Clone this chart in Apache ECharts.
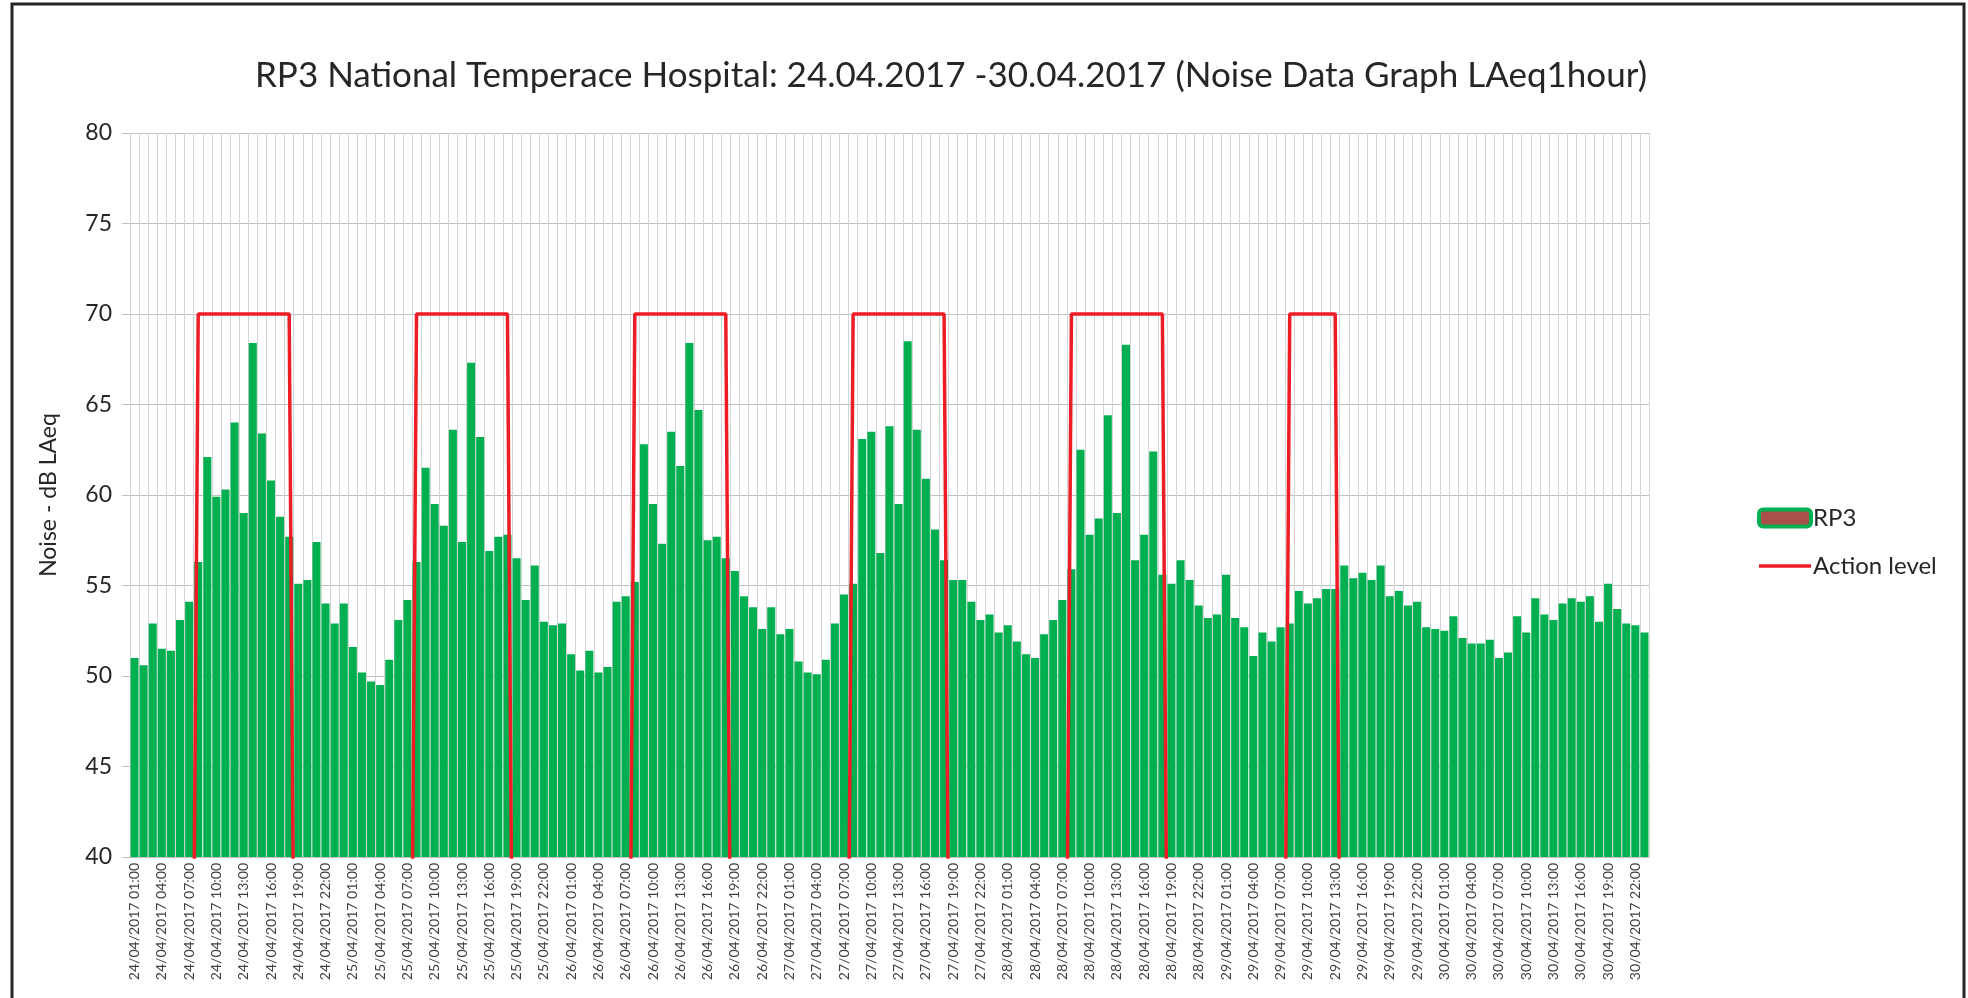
<!DOCTYPE html>
<html>
<head>
<meta charset="utf-8">
<title>RP3 Noise Data</title>
<script src="https://cdn.jsdelivr.net/npm/echarts@6/dist/echarts.min.js"></script>
<style>
html,body{margin:0;padding:0;background:#fff;}
#chart{width:1968px;height:998px;}
</style>
</head>
<body>
<div id="chart"></div>
<script>
// dates shown on the x axis, hourly from 24/04 01:00 to 30/04 23:00
var days = ['24/04/2017','25/04/2017','26/04/2017','27/04/2017','28/04/2017','29/04/2017','30/04/2017'];
var firstHour = 1;

// LAeq1hour values per day (24/04 starts at 01:00)
var rp3_24 = [51.0,50.6,52.9,51.5,51.4,53.1,54.1,56.3,62.1,59.9,60.3,64.0,59.0,68.4,63.4,60.8,58.8,57.7,55.1,55.3,57.4,54.0,52.9];
var rp3_25 = [54.0,51.6,50.2,49.7,49.5,50.9,53.1,54.2,56.3,61.5,59.5,58.3,63.6,57.4,67.3,63.2,56.9,57.7,57.8,56.5,54.2,56.1,53.0,52.8];
var rp3_26 = [52.9,51.2,50.3,51.4,50.2,50.5,54.1,54.4,55.2,62.8,59.5,57.3,63.5,61.6,68.4,64.7,57.5,57.7,56.5,55.8,54.4,53.8,52.6,53.8];
var rp3_27 = [52.3,52.6,50.8,50.2,50.1,50.9,52.9,54.5,55.1,63.1,63.5,56.8,63.8,59.5,68.5,63.6,60.9,58.1,56.4,55.3,55.3,54.1,53.1,53.4];
var rp3_28 = [52.4,52.8,51.9,51.2,51.0,52.3,53.1,54.2,55.9,62.5,57.8,58.7,64.4,59.0,68.3,56.4,57.8,62.4,55.6,55.1,56.4,55.3,53.9,53.2];
var rp3_29 = [53.4,55.6,53.2,52.7,51.1,52.4,51.9,52.7,52.9,54.7,54.0,54.3,54.8,54.8,56.1,55.4,55.7,55.3,56.1,54.4,54.7,53.9,54.1,52.7];
var rp3_30 = [52.6,52.5,53.3,52.1,51.8,51.8,52.0,51.0,51.3,53.3,52.4,54.3,53.4,53.1,54.0,54.3,54.1,54.4,53.0,55.1,53.7,52.9,52.8,52.4];

// action level per day (70 dB during working hours, 0 outside)
var act_24 = [0,0,0,0,0,0,0,70,70,70,70,70,70,70,70,70,70,70,0,0,0,0,0];
var act_25 = [0,0,0,0,0,0,0,0,70,70,70,70,70,70,70,70,70,70,70,0,0,0,0,0];
var act_26 = [0,0,0,0,0,0,0,0,70,70,70,70,70,70,70,70,70,70,70,0,0,0,0,0];
var act_27 = [0,0,0,0,0,0,0,0,70,70,70,70,70,70,70,70,70,70,70,0,0,0,0,0];
var act_28 = [0,0,0,0,0,0,0,0,70,70,70,70,70,70,70,70,70,70,70,0,0,0,0,0];
var act_29 = [0,0,0,0,0,0,0,0,70,70,70,70,70,70,0,0,0,0,0,0,0,0,0,0];
var act_30 = [0,0,0,0,0,0,0,0,0,0,0,0,0,0,0,0,0,0,0,0,0,0,0,0];

var yTicks = [40,45,50,55,60,65,70,75,80];

var rp3 = [].concat(rp3_24,rp3_25,rp3_26,rp3_27,rp3_28,rp3_29,rp3_30);
var action = [].concat(act_24,act_25,act_26,act_27,act_28,act_29,act_30);

var categories = [];
days.forEach(function(d,i){
    for(var h=(i===0?firstHour:0);h<24;h++){
        categories.push(d+' '+(h<10?'0':'')+h+':00');
    }
});

var font = 'Lato, "Open Sans", sans-serif';
var chart = echarts.init(document.getElementById('chart'));
var option = {
    animation:false,
    backgroundColor:'#fff',
    title:{
        text:'RP3 National Temperace Hospital: 24.04.2017 -30.04.2017 (Noise Data Graph LAeq1hour)',
        left:946,
        textAlign:'center',
        top:53,
        textStyle:{fontFamily:font,fontSize:35,fontWeight:'normal',color:'#262626'}
    },
    legend:{
        orient:'vertical',
        left:1752,
        top:501,
        itemGap:24,
        itemWidth:52,
        itemHeight:17,
        textStyle:{fontFamily:font,fontSize:24,color:'#262626',lineHeight:24,padding:[0,0,0,-3]},
        data:[
            {name:'RP3',icon:'roundRect',itemStyle:{color:'#a9504a',borderColor:'#00b050',borderWidth:4}},
            {name:'Action level',icon:'path://M0,0 L52,0 L52,3.6 L0,3.6 Z',itemStyle:{color:'#ee1c25',borderWidth:0}}
        ]
    },
    graphic:[{
        type:'rect',
        shape:{x:12,y:4,width:1952,height:1010},
        style:{fill:'none',stroke:'#262626',lineWidth:3},
        silent:true
    }],
    grid:{left:130,right:319,top:133,bottom:141,containLabel:false},
    xAxis:{
        type:'category',
        data:categories,
        boundaryGap:true,
        axisLine:{lineStyle:{color:'#bfbfbf',width:1}},
        axisTick:{show:false},
        splitLine:{show:true,interval:0,lineStyle:{color:'#d4d4d4',width:1}},
        axisLabel:{interval:2,rotate:90,fontFamily:font,fontSize:14,color:'#404040',margin:6}
    },
    yAxis:{
        type:'value',
        min:yTicks[0],
        max:yTicks[yTicks.length-1],
        interval:5,
        name:'Noise - dB LAeq',
        nameLocation:'middle',
        nameGap:70,
        nameTextStyle:{fontFamily:font,fontSize:23,color:'#262626'},
        axisLine:{show:false},
        axisTick:{show:true,length:8,lineStyle:{color:'#bfbfbf'}},
        splitLine:{lineStyle:{color:'#bfbfbf',width:1}},
        axisLabel:{fontFamily:font,fontSize:23,color:'#262626',margin:18}
    },
    series:[
        {
            name:'RP3',
            type:'bar',
            data:rp3,
            barCategoryGap:'12%',
            itemStyle:{color:'#00b050'}
        },
        {
            name:'Action level',
            type:'line',
            data:action,
            symbol:'none',
            clip:true,
            lineStyle:{color:'#ee1c25',width:3.5},
            itemStyle:{color:'#ee1c25'},
            z:5
        }
    ]
};
chart.setOption(option);
</script>
</body>
</html>
